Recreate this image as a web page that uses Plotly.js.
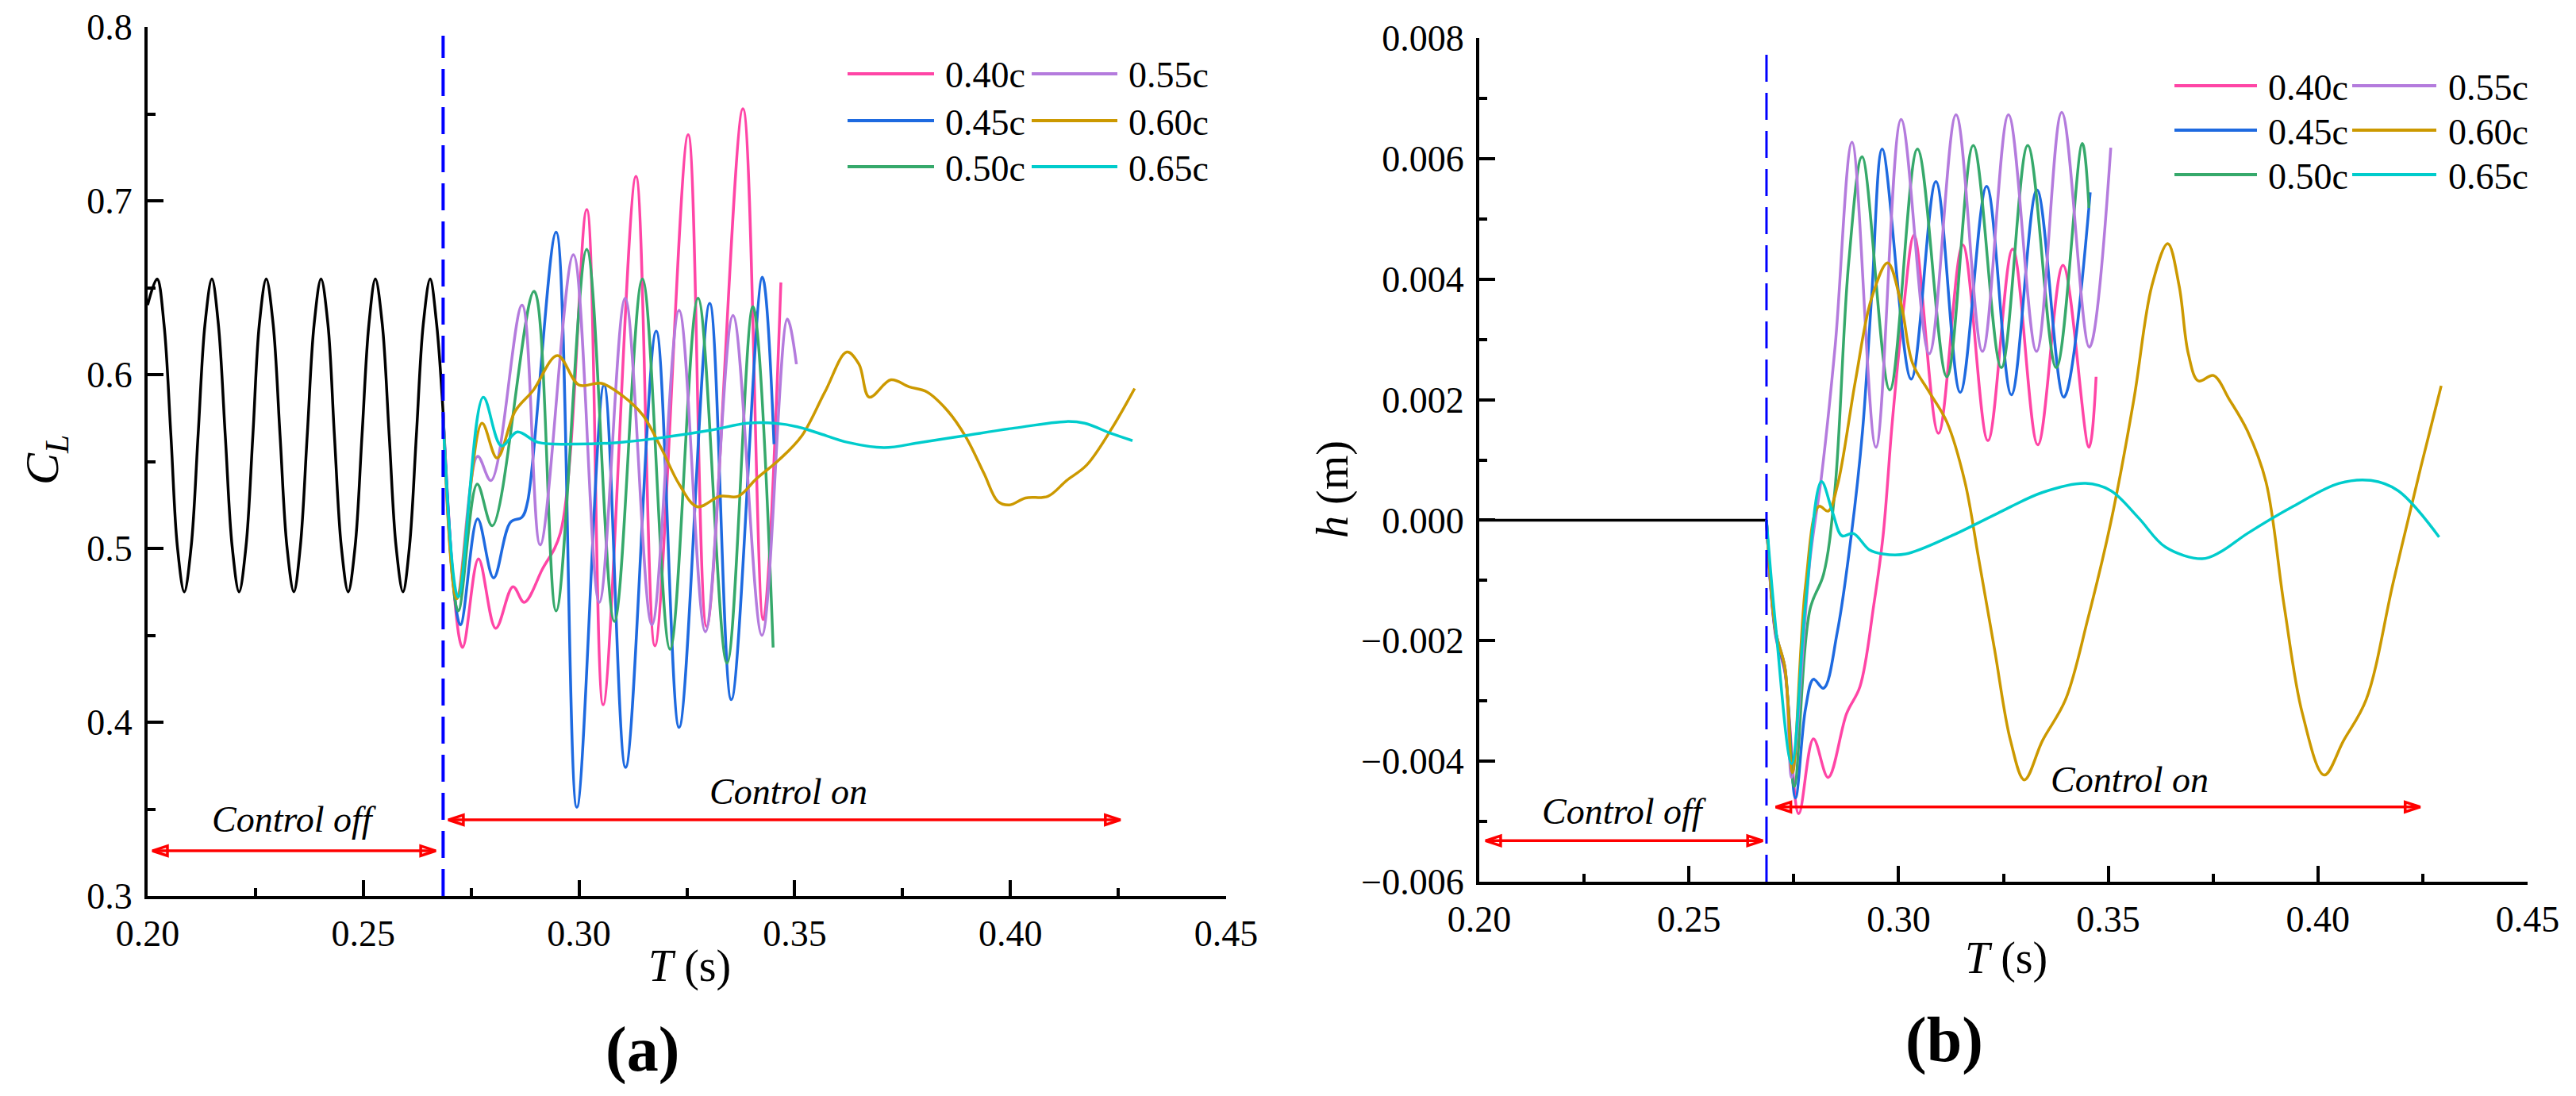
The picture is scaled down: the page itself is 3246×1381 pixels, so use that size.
<!DOCTYPE html>
<html>
<head>
<meta charset="utf-8">
<script src="https://cdn.plot.ly/plotly-3.0.1.min.js"></script>
<style>
  html, body { margin: 0; padding: 0; background: #fff; }
  #chart { width: 3246px; height: 1381px; }
</style>
</head>
<body>
<div id="chart"></div>
<script>
// ── Series names / colours (legend order) ───────────────────────────────────
const NAMES  = ['0.40c', '0.45c', '0.50c', '0.55c', '0.60c', '0.65c'];
const COLORS = ['#FF45A6', '#1E6AE0', '#36A96B', '#B47BDD', '#CC9900', '#00CCCC'];

const SWITCH_T = 0.2685;   // control switched on (blue dashed line)

// ── (a) lift coefficient C_L ────────────────────────────────────────────────
const T_OFF_A = [0.2000, 0.2022, 0.2038, 0.2054, 0.2069, 0.2085, 0.2101, 0.2117, 0.2133,
  0.2149, 0.2164, 0.2180, 0.2196, 0.2212, 0.2228, 0.2244, 0.2259, 0.2275, 0.2291, 0.2307,
  0.2323, 0.2339, 0.2354, 0.2370, 0.2386, 0.2402, 0.2418, 0.2433, 0.2449, 0.2465, 0.2481,
  0.2497, 0.2513, 0.2528, 0.2544, 0.2560, 0.2576, 0.2592, 0.2607, 0.2623, 0.2639, 0.2655,
  0.2670, 0.2685];
const CL_OFF = [0.640, 0.655, 0.629, 0.565, 0.501, 0.475, 0.501, 0.565, 0.629,
  0.655, 0.629, 0.565, 0.501, 0.475, 0.501, 0.565, 0.629, 0.655, 0.629, 0.565,
  0.501, 0.475, 0.501, 0.565, 0.629, 0.655, 0.629, 0.565, 0.501, 0.475, 0.501,
  0.565, 0.629, 0.655, 0.629, 0.565, 0.501, 0.475, 0.501, 0.565, 0.629, 0.655,
  0.629, 0.578];

const T_A_040  = [0.2685, 0.2730, 0.2767, 0.2807, 0.2847, 0.2873, 0.2915, 0.2957, 0.3018, 0.3056,
  0.3132, 0.3176, 0.3253, 0.3296, 0.3380, 0.3427, 0.3468];
const CL_A_040 = [0.578, 0.443, 0.494, 0.454, 0.478, 0.469, 0.488, 0.509, 0.695, 0.410,
  0.714, 0.444, 0.738, 0.455, 0.753, 0.459, 0.653];

const T_A_045  = [0.2685, 0.2725, 0.2765, 0.2802, 0.2841, 0.2868, 0.2881, 0.2947, 0.2995, 0.3058,
  0.3108, 0.3179, 0.3232, 0.3303, 0.3353, 0.3425, 0.3452];
const CL_A_045 = [0.578, 0.456, 0.517, 0.483, 0.515, 0.518, 0.527, 0.682, 0.351, 0.594,
  0.374, 0.625, 0.397, 0.641, 0.413, 0.656, 0.560];

const T_A_050  = [0.2685, 0.2720, 0.2764, 0.2799, 0.2896, 0.2947, 0.3018, 0.3082, 0.3147, 0.3211,
  0.3276, 0.3343, 0.3403, 0.3450];
const CL_A_050 = [0.578, 0.464, 0.537, 0.513, 0.648, 0.464, 0.672, 0.458, 0.655, 0.442,
  0.644, 0.434, 0.639, 0.443];

const T_A_055  = [0.2685, 0.2717, 0.2765, 0.2796, 0.2868, 0.2910, 0.2987, 0.3047, 0.3107, 0.3169,
  0.3232, 0.3293, 0.3357, 0.3424, 0.3483, 0.3504];
const CL_A_055 = [0.578, 0.472, 0.553, 0.539, 0.640, 0.502, 0.669, 0.469, 0.644, 0.456,
  0.637, 0.452, 0.634, 0.450, 0.632, 0.606];

const T_A_060  = [0.2685, 0.2717, 0.2775, 0.2810, 0.2852, 0.2894, 0.2950, 0.3000, 0.3052, 0.3105,
  0.3147, 0.3190, 0.3232, 0.3274, 0.3327, 0.3369, 0.3411, 0.3464, 0.3517, 0.3570, 0.3621,
  0.3649, 0.3673, 0.3723, 0.3765, 0.3807, 0.3855, 0.3897, 0.3939, 0.3971, 0.3998, 0.4035,
  0.4087, 0.4130, 0.4177, 0.4235, 0.4288];
const CL_A_060 = [0.578, 0.471, 0.572, 0.552, 0.579, 0.591, 0.611, 0.594, 0.595, 0.587,
  0.577, 0.558, 0.537, 0.524, 0.530, 0.530, 0.540, 0.551, 0.565, 0.590, 0.613,
  0.606, 0.587, 0.597, 0.593, 0.590, 0.579, 0.564, 0.543, 0.527, 0.525, 0.529,
  0.530, 0.539, 0.548, 0.569, 0.592];

const T_A_065  = [0.2685, 0.2720, 0.2778, 0.2820, 0.2857, 0.2905, 0.2989, 0.3095, 0.3200, 0.3306,
  0.3390, 0.3454, 0.3506, 0.3559, 0.3623, 0.3707, 0.3792, 0.3897, 0.4003, 0.4130, 0.4172,
  0.4235, 0.4283];
const CL_A_065 = [0.574, 0.472, 0.587, 0.559, 0.567, 0.561, 0.560, 0.561, 0.564, 0.568,
  0.572, 0.572, 0.570, 0.566, 0.561, 0.558, 0.561, 0.565, 0.569, 0.573, 0.572,
  0.566, 0.562];

// ── (b) plunge displacement h (m) ───────────────────────────────────────────
const T_OFF_B = [0.2000, 0.2685];
const H_OFF   = [0, 0];

const T_B_040 = [0.2685, 0.2707, 0.2729, 0.2762, 0.2797, 0.2832, 0.2876, 0.2908, 0.2941, 0.2963,
  0.2985, 0.3012, 0.3037, 0.3095, 0.3153, 0.3213, 0.3272, 0.3332, 0.3392, 0.3454, 0.3471];
const H_B_040 = [0, -0.00193, -0.00253, -0.00487, -0.00363, -0.00427, -0.00321, -0.00276, -0.00140, -0.00026,
  0.00163, 0.00352, 0.00473, 0.00144, 0.00457, 0.00132, 0.00450, 0.00125, 0.00423, 0.00121, 0.00238];

const T_B_045 = [0.2685, 0.2707, 0.2729, 0.2754, 0.2778, 0.2797, 0.2821, 0.2854, 0.2887, 0.2914,
  0.2936, 0.2961, 0.3030, 0.3089, 0.3147, 0.3210, 0.3269, 0.3330, 0.3394, 0.3457];
const H_B_045 = [0, -0.00190, -0.00250, -0.00461, -0.00313, -0.00264, -0.00279, -0.00185, -0.00026, 0.00148,
  0.00374, 0.00616, 0.00234, 0.00562, 0.00212, 0.00554, 0.00208, 0.00548, 0.00204, 0.00544];

const T_B_050 = [0.2685, 0.2707, 0.2729, 0.2751, 0.2789, 0.2821, 0.2848, 0.2881, 0.2913, 0.2979,
  0.3045, 0.3115, 0.3178, 0.3245, 0.3308, 0.3376, 0.3438, 0.3454];
const H_B_050 = [0, -0.00185, -0.00245, -0.00442, -0.00147, -0.00090, 0.00049, 0.00427, 0.00603, 0.00216,
  0.00616, 0.00238, 0.00622, 0.00253, 0.00622, 0.00253, 0.00625, 0.00518];

const T_B_055 = [0.2685, 0.2707, 0.2729, 0.2745, 0.2789, 0.2816, 0.2849, 0.2889, 0.2946, 0.3006,
  0.3073, 0.3137, 0.3200, 0.3262, 0.3329, 0.3389, 0.3455, 0.3506];
const H_B_055 = [0, -0.00185, -0.00245, -0.00427, -0.00064, 0.00072, 0.00291, 0.00627, 0.00121, 0.00665,
  0.00276, 0.00673, 0.00280, 0.00673, 0.00280, 0.00677, 0.00287, 0.00618];

const T_B_060 = [0.2685, 0.2707, 0.2729, 0.2747, 0.2778, 0.2810, 0.2832, 0.2854, 0.2897, 0.2935,
  0.2974, 0.3006, 0.3033, 0.3071, 0.3115, 0.3158, 0.3191, 0.3229, 0.3267, 0.3300, 0.3343,
  0.3398, 0.3452, 0.3506, 0.3561, 0.3604, 0.3642, 0.3669, 0.3691, 0.3715, 0.3751, 0.3789,
  0.3832, 0.3876, 0.3919, 0.3963, 0.4015, 0.4061, 0.4115, 0.4180, 0.4245, 0.4294];
const H_B_060 = [0, -0.00185, -0.00245, -0.00419, -0.00109, 0.00023, 0.00015, 0.00057, 0.00231, 0.00367,
  0.00427, 0.00359, 0.00261, 0.00215, 0.00163, 0.00064, -0.00064, -0.00215, -0.00366, -0.00431, -0.00366,
  -0.00298, -0.00162, -0.00004, 0.00200, 0.00389, 0.00459, 0.00389, 0.00276, 0.00231, 0.00240, 0.00200,
  0.00148, 0.00064, -0.00140, -0.00321, -0.00423, -0.00366, -0.00298, -0.00102, 0.00087, 0.00223];

const T_B_065 = [0.2685, 0.2707, 0.2745, 0.2778, 0.2816, 0.2843, 0.2865, 0.2892, 0.2930, 0.2963,
  0.3017, 0.3126, 0.3235, 0.3343, 0.3446, 0.3506, 0.3572, 0.3637, 0.3724, 0.3767, 0.3832,
  0.3941, 0.4050, 0.4126, 0.4191, 0.4289];
const H_B_065 = [0, -0.00177, -0.00404, -0.00139, 0.00064, 0.00012, -0.00026, -0.00022, -0.00049, -0.00056,
  -0.00056, -0.00026, 0.00011, 0.00046, 0.00061, 0.00049, 0.00004, -0.00045, -0.00064, -0.00053, -0.00022,
  0.00023, 0.00061, 0.00066, 0.00049, -0.00028];

// ── Control-phase arrows: [start T, end T, level] ───────────────────────────
const ARROWS_A = [[0.2011, 0.2668, 0.326], [0.2697, 0.4255, 0.3438]];
const ARROWS_B = [[0.2015, 0.2676, -0.00532], [0.2707, 0.4244, -0.00476]];

const SERIES_A = [[T_A_040, CL_A_040], [T_A_045, CL_A_045], [T_A_050, CL_A_050],
                  [T_A_055, CL_A_055], [T_A_060, CL_A_060], [T_A_065, CL_A_065]];
const SERIES_B = [[T_B_040, H_B_040], [T_B_045, H_B_045], [T_B_050, H_B_050],
                  [T_B_055, H_B_055], [T_B_060, H_B_060], [T_B_065, H_B_065]];

// ── Styling ─────────────────────────────────────────────────────────────────
const W = 3246, H = 1381;
const FONT   = 'Liberation Serif, Times New Roman, serif';
const TICK_F = { family: FONT, size: 46, color: '#000' };
const px = v => v / W;             // pixel → paper x
const py = v => 1 - v / H;         // pixel → paper y

function curve(x, y, color, xa, ya, width) {
  return {
    x, y, xaxis: xa, yaxis: ya,
    type: 'scatter', mode: 'lines', showlegend: false, hoverinfo: 'skip',
    line: { color, width: width || 3.5, shape: 'spline', smoothing: 1 },
  };
}

// double-headed red arrow as a line with open arrow markers at both ends
function arrowTrace(a, xa, ya) {
  return {
    x: [a[0], a[1]], y: [a[2], a[2]], xaxis: xa, yaxis: ya,
    type: 'scatter', mode: 'lines+markers', showlegend: false, hoverinfo: 'skip',
    line: { color: '#FF0000', width: 3.5 },
    marker: {
      symbol: 'arrow-open', size: 20, angle: [-90, 90], color: '#FF0000',
      line: { color: '#FF0000', width: 3.5 },
    },
  };
}

function switchLine(y0, y1, xa, ya, width) {
  return {
    x: [SWITCH_T, SWITCH_T], y: [y0, y1], xaxis: xa, yaxis: ya,
    type: 'scatter', mode: 'lines', showlegend: false, hoverinfo: 'skip',
    line: { color: '#0000FF', width, dash: '34px,14px' },
  };
}

function xAxis(domain, anchor) {
  return {
    domain, anchor, range: [0.2, 0.45], tick0: 0.2, dtick: 0.05, tickformat: '.2f',
    ticks: 'inside', ticklen: 20, tickwidth: 4, tickcolor: '#000',
    minor: { ticks: 'inside', ticklen: 10, tickwidth: 4, tickcolor: '#000', dtick: 0.025, showgrid: false },
    showline: true, linecolor: '#000', linewidth: 4, mirror: false,
    showgrid: false, zeroline: false, tickfont: TICK_F, ticklabelstandoff: 4,
  };
}

function yAxis(domain, anchor, range, dtick, minorDtick, fmt) {
  return {
    domain, anchor, range, tick0: range[0], dtick, tickformat: fmt,
    ticks: 'inside', ticklen: 20, tickwidth: 4, tickcolor: '#000',
    minor: { ticks: 'inside', ticklen: 10, tickwidth: 4, tickcolor: '#000', dtick: minorDtick, showgrid: false },
    showline: true, linecolor: '#000', linewidth: 4, mirror: false,
    showgrid: false, zeroline: false, tickfont: TICK_F, ticklabelstandoff: 6,
  };
}

// ── Traces ──────────────────────────────────────────────────────────────────
const traces = [];
traces.push(curve(T_OFF_A, CL_OFF, '#000', 'x', 'y', 3.5));
SERIES_A.forEach((s, i) => traces.push(curve(s[0], s[1], COLORS[i], 'x', 'y')));
traces.push(switchLine(0.3, 0.795, 'x', 'y', 4));
ARROWS_A.forEach(a => traces.push(arrowTrace(a, 'x', 'y')));

traces.push(curve(T_OFF_B, H_OFF, '#000', 'x2', 'y2', 3.5));
SERIES_B.forEach((s, i) => traces.push(curve(s[0], s[1], COLORS[i], 'x2', 'y2')));
traces.push(switchLine(-0.006, 0.0079, 'x2', 'y2', 3));
ARROWS_B.forEach(a => traces.push(arrowTrace(a, 'x2', 'y2')));

// ── Annotations: control labels, titles ─────────────────────────────────────
function label(xr, yr, x, y, text, size, extra) {
  return Object.assign({
    xref: xr, yref: yr, x, y, text, showarrow: false,
    xanchor: 'center', yanchor: 'middle',
    font: { family: FONT, size, color: '#000' },
  }, extra || {});
}

const annotations = [
  label('x', 'y', 0.2340, 0.3440, '<i>Control off</i>', 46),
  label('x', 'y', 0.3485, 0.3600, '<i>Control on</i>', 46),
  label('x2', 'y2', 0.2347, -0.00483, '<i>Control off</i>', 46),
  label('x2', 'y2', 0.3550, -0.00431, '<i>Control on</i>', 46),

  label('paper', 'paper', px(57),   py(580),  '<i>C</i><sub><i>L</i></sub>', 60, { textangle: -90 }),
  label('paper', 'paper', px(869),  py(1217), '<i>T</i> (s)', 56),
  label('paper', 'paper', px(809),  py(1322), '<b>(a)</b>', 80),
  label('paper', 'paper', px(1680), py(617),  '<i>h</i> (m)', 56, { textangle: -90 }),
  label('paper', 'paper', px(2528), py(1207), '<i>T</i> (s)', 56),
  label('paper', 'paper', px(2450), py(1310), '<b>(b)</b>', 80),
];

// ── Two-column legends (long line samples, drawn as shapes) ────────────────
const LEGENDS = [
  { rows: [93, 152, 210],  lines: [[1068, 1177], [1300, 1408]], text: [1189, 1420] },
  { rows: [108, 164, 220], lines: [[2740, 2844], [2964, 3070]], text: [2856, 3083] },
];
const shapes = [];
LEGENDS.forEach(lg => {
  NAMES.forEach((name, i) => {
    const col = Math.floor(i / 3), row = i % 3;
    const yy = py(lg.rows[row]);
    shapes.push({
      type: 'line', xref: 'paper', yref: 'paper',
      x0: px(lg.lines[col][0]), x1: px(lg.lines[col][1]), y0: yy, y1: yy,
      line: { color: COLORS[i], width: 4 },
    });
    annotations.push(label('paper', 'paper', px(lg.text[col]), py(lg.rows[row] + 2), name, 46,
      { xanchor: 'left' }));
  });
});

const layout = {
  width: W, height: H,
  paper_bgcolor: '#fff', plot_bgcolor: 'rgba(0,0,0,0)',
  margin: { l: 0, r: 0, t: 0, b: 0, pad: 0 },
  showlegend: false,
  font: { family: FONT, size: 46, color: '#000' },
  xaxis:  xAxis([px(186), px(1545)], 'y'),
  yaxis:  yAxis([py(1129), py(34)], 'x', [0.3, 0.8], 0.1, 0.05, '.1f'),
  xaxis2: xAxis([px(1864), px(3185)], 'y2'),
  yaxis2: yAxis([py(1111), py(48)], 'x2', [-0.006, 0.008], 0.002, 0.001, '.3f'),
  annotations, shapes,
};

Plotly.newPlot('chart', traces, layout, { displayModeBar: false, responsive: false, staticPlot: true });
</script>
</body>
</html>
